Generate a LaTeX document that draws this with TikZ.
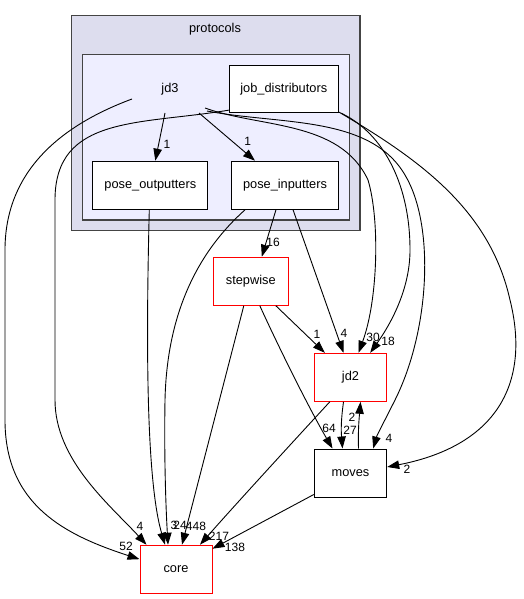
\documentclass[tikz,border=0pt]{standalone}
\usepackage{fontspec}
\setmainfont{Liberation Sans}
\usetikzlibrary{calc,arrows.meta}
\definecolor{outerfill}{HTML}{DDDDEE}
\definecolor{innerfill}{HTML}{EEEEFF}
\definecolor{clusterline}{HTML}{444444}
\tikzset{
	dirbox/.style={draw=black, fill=white, line width=1pt, minimum height=48pt, inner sep=0pt, font=\fontsize{12.8}{15}\selectfont},
	redbox/.style={dirbox, draw=red},
	dep/.style={-{Triangle[length=12pt,width=8.5pt]}, line width=0.9pt},
	num/.style={inner sep=0pt, font=\fontsize{12}{14}\selectfont},
}

\begin{document}
\begin{tikzpicture}[x=1pt,y=-1pt]
		\useasboundingbox (0,0) rectangle (523,599);
		%%%%% CLUSTERS %%%%%
		\draw[fill=outerfill, draw=clusterline, line width=1.2pt] (71.7,15.7) rectangle (360,230.7);
		\node[font=\fontsize{12.8}{15}\selectfont] (protocols) at (215,29) {protocols};
		\draw[fill=innerfill, draw=clusterline, line width=1.2pt] (82.3,54.3) rectangle (349.3,220);
		\node[font=\fontsize{12.8}{15}\selectfont] (jd3) at (170,89) {jd3};
		
		%%%%% DIRECTORIES %%%%%
		\node[dirbox, minimum width=109pt, minimum height=47.3pt] (jdist) at (283.8,89) {job\_distributors};
		\node[dirbox, minimum width=115.3pt] (pout) at (150.3,185.2) {pose\_outputters};
		\node[dirbox, minimum width=106.7pt] (pin) at (285,185.2) {pose\_inputters};
		\node[redbox, minimum width=75pt] (step) at (250.8,281.2) {stepwise};
		\node[redbox, minimum width=72.4pt] (jd2) at (350.5,377.3) {jd2};
		\node[dirbox, minimum width=72.4pt] (moves) at (350.5,473) {moves};
		\node[redbox, minimum width=72pt] (core) at (176,569.2) {core};
		
		%%%%% DEPENDENCIES %%%%%
		\draw[dep] ($(jd3)+(-5,24)$) -- ([xshift=5pt]pout.north);
		\draw[dep] ($(jd3)+(29,24)$) -- ([xshift=-30pt]pin.north);
		\draw[dep] ($(jd3)+(-38,10)$) .. controls (70,122) and (5,165) .. (5,250) -- (5,420) .. controls (5,505) and (65,535) .. ([yshift=10pt]core.west);
		\draw[dep] ($(jd3)+(35,19)$) .. controls (260,128) and (340,120) .. (368,180) .. controls (380,220) and (378,300) .. ([xshift=8pt]jd2.north);
		\draw[dep] ($(jd3)+(37,22)$) .. controls (280,125) and (370,115) .. (405,175) .. controls (435,225) and (430,330) .. (395,400) .. controls (385,420) and (377,435) .. ([xshift=-14pt]moves.north east);
		
		\draw[dep] ([yshift=3pt]jdist.south west) .. controls (140,125) and (55,115) .. (55,200) -- (55,400) .. controls (55,460) and (110,505) .. ([xshift=7pt]core.north west);
		\draw[dep] ([yshift=1pt]jdist.south east) .. controls (380,130) and (410,180) .. (410,250) .. controls (410,290) and (390,325) .. ([xshift=-17pt]jd2.north east);
		\draw[dep] ([xshift=2pt]jdist.south east) .. controls (420,160) and (490,210) .. (510,300) .. controls (530,380) and (500,445) .. ([yshift=6pt]moves.east);
		
		\draw[dep] ([xshift=-1pt]pout.south) .. controls (146,340) and (146,480) .. ([xshift=-11pt]core.north);
		
		\draw[dep] ([xshift=14pt]pin.south west) .. controls (200,250) and (167,310) .. (165,400) .. controls (164,460) and (166,510) .. ([xshift=-8pt]core.north);
		\draw[dep] ([xshift=-9pt]pin.south) -- ([xshift=11pt]step.north);
		\draw[dep] ([xshift=8pt]pin.south) -- ([xshift=-7pt]jd2.north);
		
		\draw[dep] ([xshift=-7pt]step.south) -- ([xshift=6pt]core.north);
		\draw[dep] ([xshift=25pt]step.south) -- ([xshift=11pt]jd2.north west);
		\draw[dep] ([xshift=9pt]step.south) .. controls (280,350) and (310,410) .. ([xshift=-18pt]moves.north);
		
		\draw[dep] ([xshift=-7pt]jd2.south) .. controls (341,420) and (341,430) .. ([xshift=-8pt]moves.north);
		\draw[dep] ([xshift=8pt]moves.north) .. controls (358,430) and (359,420) .. ([xshift=10pt]jd2.south);
		\draw[dep] ([xshift=16pt]jd2.south west) .. controls (290,445) and (235,505) .. ([xshift=24pt]core.north);
		\draw[dep] ([yshift=3pt]moves.south west) -- ([yshift=-4pt]core.north east);
		
		%%%%% COUNTS %%%%%
		\node[num] (n1) at (167,144) {1};
		\node[num] (n2) at (247.7,141.7) {1};
		\node[num] (n3) at (126,546) {52};
		\node[num] (n4) at (140,526) {4};
		\node[num] (n5) at (174,525) {3};
		\node[num] (n6) at (180,525) {24};
		\node[num] (n7) at (196,526) {448};
		\node[num] (n8) at (219,536) {217};
		\node[num] (n9) at (235,547) {138};
		\node[num] (n10) at (273,242) {16};
		\node[num] (n11) at (344,333) {4};
		\node[num] (n12) at (317,334) {1};
		\node[num] (n13) at (373,337) {30};
		\node[num] (n14) at (388,341) {18};
		\node[num] (n15) at (329,428) {64};
		\node[num] (n16) at (350,430) {27};
		\node[num] (n17) at (352,417) {2};
		\node[num] (n18) at (389,438) {4};
		\node[num] (n19) at (407,469) {2};
		%%%%% END %%%%%
	\end{tikzpicture}
\end{document}
